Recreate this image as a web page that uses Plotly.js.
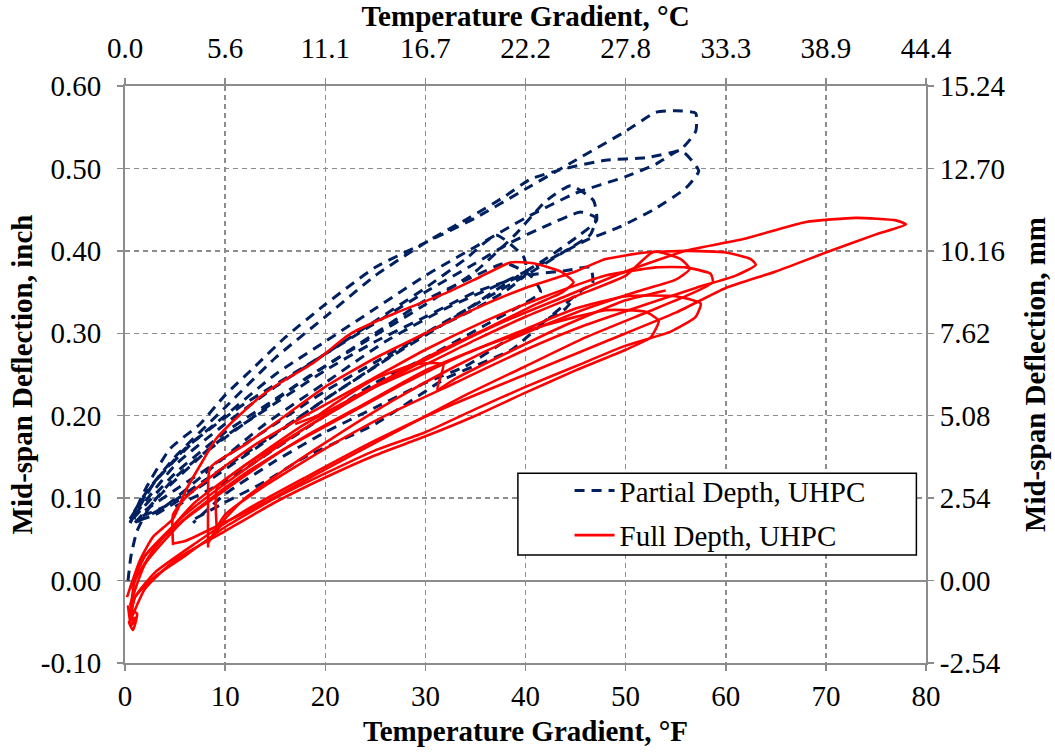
<!DOCTYPE html>
<html>
<head>
<meta charset="utf-8">
<script src="https://cdn.plot.ly/plotly-3.0.1.min.js"></script>
<style>html,body{margin:0;padding:0;background:#fff;}#chart{width:1055px;height:752px;}</style>
</head>
<body>
<div id="chart"></div>
<script>
// ---- Axis tick labels ----
const xTicksF = [0, 10, 20, 30, 40, 50, 60, 70, 80];
const xTickLabelsC = ["0.0", "5.6", "11.1", "16.7", "22.2", "27.8", "33.3", "38.9", "44.4"];
const yTicksIn = [-0.1, 0, 0.1, 0.2, 0.3, 0.4, 0.5, 0.6];
const yTickLabelsIn = ["-0.10", "0.00", "0.10", "0.20", "0.30", "0.40", "0.50", "0.60"];
const yTickLabelsMm = ["-2.54", "0.00", "2.54", "5.08", "7.62", "10.16", "12.70", "15.24"];

// ---- Partial Depth, UHPC (daily loops, °F vs inch) ----
const pdLoop1X = [0.5, 2, 4.5, 7.5, 10, 13, 16, 20, 25, 30, 35, 40, 45, 50, 53, 55, 57, 57, 55.5, 52, 48, 44, 40.5, 37.8, 34.5, 30, 25, 20, 15, 10, 5, 2, 0.5];
const pdLoop1Y = [0.07, 0.11, 0.16, 0.19, 0.225, 0.26, 0.295, 0.335, 0.38, 0.41, 0.44, 0.475, 0.51, 0.545, 0.568, 0.57, 0.567, 0.545, 0.523, 0.513, 0.51, 0.5, 0.487, 0.465, 0.441, 0.41, 0.37, 0.32, 0.27, 0.21, 0.15, 0.105, 0.075];
const pdLoop2X = [0.5, 3, 6, 10, 15, 20, 25, 30, 35, 40, 45, 50, 53, 55.5, 57.3, 56, 52.8, 49.4, 46.1, 42, 37.5, 32, 26, 20, 14, 8, 4, 1];
const pdLoop2Y = [0.07, 0.12, 0.16, 0.2, 0.25, 0.29, 0.33, 0.37, 0.405, 0.44, 0.47, 0.49, 0.505, 0.522, 0.497, 0.476, 0.45, 0.429, 0.413, 0.387, 0.36, 0.33, 0.29, 0.24, 0.19, 0.13, 0.09, 0.07];
const pdLoop3X = [1, 4, 8, 13, 18, 24, 30, 35, 39, 42, 44.5, 46.8, 47.1, 45.5, 42, 38, 33, 27, 20, 13, 7, 3, 1];
const pdLoop3Y = [0.07, 0.11, 0.155, 0.2, 0.245, 0.29, 0.335, 0.375, 0.42, 0.46, 0.479, 0.461, 0.437, 0.42, 0.39, 0.36, 0.32, 0.275, 0.22, 0.16, 0.11, 0.08, 0.072];
const pdLoop4X = [0.3, 0.6, 1.2, 2.5, 5, 10, 15, 20, 25, 30, 35, 40, 44, 46.5, 46.7, 45.7, 41.6, 38.6, 34, 30, 25, 20, 15, 10, 6.8];
const pdLoop4Y = [0.0, 0.03, 0.06, 0.09, 0.125, 0.175, 0.215, 0.255, 0.29, 0.32, 0.35, 0.37, 0.376, 0.38, 0.36, 0.353, 0.312, 0.295, 0.26, 0.24, 0.21, 0.18, 0.145, 0.105, 0.07];
const pdLoop5X = [1, 5, 10, 15, 20, 25, 30, 34, 37.1, 39.8, 40.1, 38.1, 35, 30, 25, 20, 15, 10, 5, 2];
const pdLoop5Y = [0.08, 0.14, 0.19, 0.235, 0.275, 0.315, 0.355, 0.39, 0.419, 0.393, 0.373, 0.352, 0.33, 0.3, 0.265, 0.23, 0.19, 0.15, 0.11, 0.085];
const pdLoop6X = [0.8, 5, 10, 15, 20, 25, 30, 35, 38, 40.5, 41.5, 39, 36, 30, 25, 20, 15, 10, 5];
const pdLoop6Y = [0.075, 0.13, 0.18, 0.22, 0.26, 0.3, 0.34, 0.37, 0.385, 0.37, 0.35, 0.33, 0.31, 0.27, 0.24, 0.2, 0.16, 0.12, 0.09];
const pdLoop7X = [0.5, 3, 7, 12, 18, 24, 30, 35, 38.5, 42, 45.5, 47, 46.5, 44, 40, 35, 30, 25, 20, 14, 9, 4, 1];
const pdLoop7Y = [0.075, 0.12, 0.17, 0.215, 0.26, 0.305, 0.35, 0.385, 0.41, 0.43, 0.447, 0.44, 0.42, 0.4, 0.37, 0.335, 0.3, 0.26, 0.22, 0.17, 0.13, 0.09, 0.075];
const pdLoop8X = [7, 10, 14, 18, 25, 32, 38.6, 42.3, 44, 45];
const pdLoop8Y = [0.075, 0.095, 0.12, 0.15, 0.19, 0.245, 0.28, 0.318, 0.33, 0.345];

// ---- Full Depth, UHPC (daily loops, °F vs inch) ----
const fdLoop1X = [0.5, 1, 3, 7, 12, 18, 25, 32, 40, 48, 55, 60, 65, 70, 75, 78, 77, 73, 68, 62, 56, 50, 44, 38, 32, 25, 18, 12, 6, 2, 0.5];
const fdLoop1Y = [-0.05, -0.02, 0.01, 0.045, 0.085, 0.125, 0.17, 0.21, 0.25, 0.29, 0.325, 0.355, 0.375, 0.398, 0.42, 0.432, 0.437, 0.44, 0.435, 0.415, 0.4, 0.375, 0.345, 0.315, 0.28, 0.235, 0.185, 0.135, 0.08, 0.03, -0.01];
const fdLoop2X = [8.3, 8.3, 8.5, 12, 16, 20, 25, 30, 35, 40, 45, 48, 52, 56, 60, 62.5, 63, 61, 57, 52, 46, 40, 33, 26, 20, 14, 10, 8.3];
const fdLoop2Y = [0.04, 0.09, 0.137, 0.165, 0.2, 0.235, 0.27, 0.3, 0.33, 0.355, 0.375, 0.39, 0.398, 0.4, 0.398, 0.39, 0.383, 0.37, 0.355, 0.335, 0.31, 0.28, 0.24, 0.2, 0.16, 0.115, 0.08, 0.045];
const fdLoop3X = [4.8, 4.8, 6, 9, 13, 18, 24, 30, 36, 42, 48, 53, 56, 58.5, 58.7, 56, 52, 46, 40, 34, 27, 20, 14, 9, 6, 4.8];
const fdLoop3Y = [0.043, 0.08, 0.1, 0.13, 0.165, 0.2, 0.24, 0.28, 0.315, 0.345, 0.37, 0.38, 0.38, 0.372, 0.362, 0.345, 0.325, 0.295, 0.26, 0.225, 0.18, 0.135, 0.095, 0.065, 0.048, 0.045];
const fdLoop4X = [9.2, 9.2, 12, 16, 20, 25, 30, 35, 40, 45, 50, 52.8, 55.5, 56.4, 55, 51, 45, 39, 33, 27, 21, 16, 12, 10, 9.2];
const fdLoop4Y = [0.057, 0.113, 0.14, 0.17, 0.2, 0.235, 0.262, 0.292, 0.32, 0.345, 0.37, 0.399, 0.39, 0.378, 0.365, 0.35, 0.325, 0.295, 0.26, 0.22, 0.175, 0.135, 0.1, 0.075, 0.06];
const fdLoop5X = [0.5, 1, 3, 6, 10, 15, 20, 25, 30, 35, 40, 45, 50, 54.5, 57, 57.5, 55, 50, 45, 40, 34, 28, 22, 16, 10, 5, 2, 0.5];
const fdLoop5Y = [-0.045, -0.02, 0.005, 0.03, 0.065, 0.1, 0.13, 0.158, 0.18, 0.208, 0.235, 0.26, 0.285, 0.302, 0.32, 0.336, 0.345, 0.345, 0.33, 0.305, 0.275, 0.24, 0.2, 0.16, 0.11, 0.065, 0.03, -0.01];
const fdLoop6X = [0.5, 2, 5, 10, 15, 20, 25, 30, 35, 40, 45, 50, 52.5, 53.3, 52, 48, 42, 36, 30, 24, 18, 12, 6, 2, 0.5];
const fdLoop6Y = [-0.05, -0.01, 0.025, 0.06, 0.095, 0.125, 0.152, 0.175, 0.2, 0.228, 0.255, 0.28, 0.295, 0.315, 0.326, 0.328, 0.31, 0.285, 0.255, 0.215, 0.175, 0.13, 0.075, 0.02, -0.03];
const fdLoop7X = [0.2, 1.5, 2.8, 4.8, 6.1, 7.8, 9.1, 10.5, 13.5, 15.5, 18.8, 22.1, 23.2, 27.1, 32.1, 35.4, 38.5, 40.8, 43.5, 44.8, 43.7, 41, 36, 30, 24, 18, 12, 7, 3, 1, 0.5];
const fdLoop7Y = [-0.02, 0.025, 0.053, 0.075, 0.11, 0.146, 0.172, 0.19, 0.223, 0.24, 0.264, 0.296, 0.304, 0.325, 0.349, 0.368, 0.386, 0.385, 0.375, 0.362, 0.35, 0.335, 0.305, 0.27, 0.23, 0.19, 0.14, 0.095, 0.04, 0.0, -0.04];
const fdLoop8X = [17, 19.2, 21, 25, 28.8, 30.8, 31.8, 31.2, 33, 38.8, 44, 50, 54];
const fdLoop8Y = [0.19, 0.2, 0.215, 0.245, 0.262, 0.264, 0.262, 0.232, 0.245, 0.28, 0.31, 0.34, 0.352];
const fdLoop9X = [0.3, 0.6, 1.0, 0.4, 0.8, 1.2, 0.5];
const fdLoop9Y = [-0.03, -0.055, -0.045, -0.05, -0.06, -0.04, -0.035];

function joinLoops(loops) {
  const xs = [], ys = [];
  loops.forEach((l, i) => {
    if (i > 0) { xs.push(null); ys.push(null); }
    xs.push(...l[0]); ys.push(...l[1]);
  });
  return [xs, ys];
}

const [pdX, pdY] = joinLoops([
  [pdLoop1X, pdLoop1Y], [pdLoop2X, pdLoop2Y], [pdLoop3X, pdLoop3Y], [pdLoop4X, pdLoop4Y],
  [pdLoop5X, pdLoop5Y], [pdLoop6X, pdLoop6Y], [pdLoop7X, pdLoop7Y], [pdLoop8X, pdLoop8Y]
]);
const [fdX, fdY] = joinLoops([
  [fdLoop1X, fdLoop1Y], [fdLoop2X, fdLoop2Y], [fdLoop3X, fdLoop3Y], [fdLoop4X, fdLoop4Y],
  [fdLoop5X, fdLoop5Y], [fdLoop6X, fdLoop6Y], [fdLoop7X, fdLoop7Y], [fdLoop8X, fdLoop8Y],
  [fdLoop9X, fdLoop9Y]
]);

const FONT = "Liberation Serif";
const GRID = "#8c8c8c";
const TICKFONT = {family: FONT, size: 29, color: "#000"};
const TITLEFONT = {family: FONT, size: 29, color: "#000", weight: "bold"};

const traces = [
  {
    x: pdX, y: pdY, type: "scatter", mode: "lines", name: "Partial Depth, UHPC", legendgroup: "a",
    line: {color: "#002060", width: 3, dash: "10px,7px", shape: "spline", smoothing: 0.5},
    connectgaps: false, hoverinfo: "skip"
  },
  {
    x: fdX, y: fdY, type: "scatter", mode: "lines", name: "Full Depth, UHPC", legendgroup: "b",
    line: {color: "#ff0000", width: 2.6, shape: "spline", smoothing: 0.5},
    connectgaps: false, hoverinfo: "skip"
  },
  {
    x: [0], y: [0], xaxis: "x2", yaxis: "y2", type: "scatter", mode: "markers",
    marker: {opacity: 0}, showlegend: false, hoverinfo: "skip"
  }
];

const layout = {
  width: 1055, height: 752,
  margin: {l: 125, r: 129, t: 86, b: 89, pad: 0},
  paper_bgcolor: "#fff", plot_bgcolor: "#fff",
  font: {family: FONT, size: 29, color: "#000"},
  showlegend: true,
  legend: {
    x: 0.555, y: 0.343, xanchor: "left", yanchor: "top",
    bgcolor: "rgba(0,0,0,0)", borderwidth: 0,
    font: {family: FONT, size: 29, color: "#000"},
    itemwidth: 40, tracegroupgap: 4
  },
  xaxis: {
    range: [0, 80], tickvals: xTicksF, ticktext: xTicksF.map(String),
    showgrid: true, gridcolor: GRID, griddash: "5px,4px", gridwidth: 1.5,
    showline: true, linecolor: GRID, linewidth: 2, mirror: false,
    ticks: "outside", ticklen: 6, tickcolor: GRID, tickwidth: 1.5,
    zeroline: false, tickfont: TICKFONT,
    title: {text: "Temperature Gradient, °F", font: TITLEFONT, standoff: 10}
  },
  xaxis2: {
    overlaying: "x", side: "top", anchor: "y", range: [0, 80],
    tickvals: xTicksF, ticktext: xTickLabelsC,
    showgrid: false, showline: true, linecolor: GRID, linewidth: 2,
    ticks: "outside", ticklen: 6, tickcolor: GRID, tickwidth: 1.5, zeroline: false,
    ticklabelstandoff: 8, tickfont: TICKFONT,
    title: {text: "Temperature Gradient, °C", font: TITLEFONT, standoff: 1}
  },
  yaxis: {
    range: [-0.1, 0.6], tickvals: yTicksIn, ticktext: yTickLabelsIn,
    showgrid: true, gridcolor: GRID, griddash: "5px,4px", gridwidth: 1.5,
    showline: true, linecolor: GRID, linewidth: 2,
    ticks: "outside", ticklen: 6, tickcolor: GRID, tickwidth: 1.5,
    zeroline: true, zerolinecolor: GRID, zerolinewidth: 2,
    ticklabelstandoff: 10, tickfont: TICKFONT,
    title: {text: "Mid-span Deflection, inch", font: TITLEFONT, standoff: 0}
  },
  yaxis2: {
    overlaying: "y", side: "right", anchor: "x", range: [-0.1, 0.6],
    tickvals: yTicksIn, ticktext: yTickLabelsMm,
    showgrid: false, showline: true, linecolor: GRID, linewidth: 2,
    ticks: "outside", ticklen: 6, tickcolor: GRID, tickwidth: 1.5, zeroline: false,
    tickfont: TICKFONT,
    title: {text: "Mid-span Deflection, mm", font: TITLEFONT, standoff: 20}
  },
  shapes: [
    {type: "rect", xref: "paper", yref: "paper", layer: "above",
     x0: 0.4905, x1: 0.988, y0: 0.187, y1: 0.329,
     fillcolor: "#fff", line: {color: "#000", width: 1.5}}
  ]
};

Plotly.newPlot("chart", traces, layout, {displayModeBar: false, staticPlot: true});
</script>
</body>
</html>
